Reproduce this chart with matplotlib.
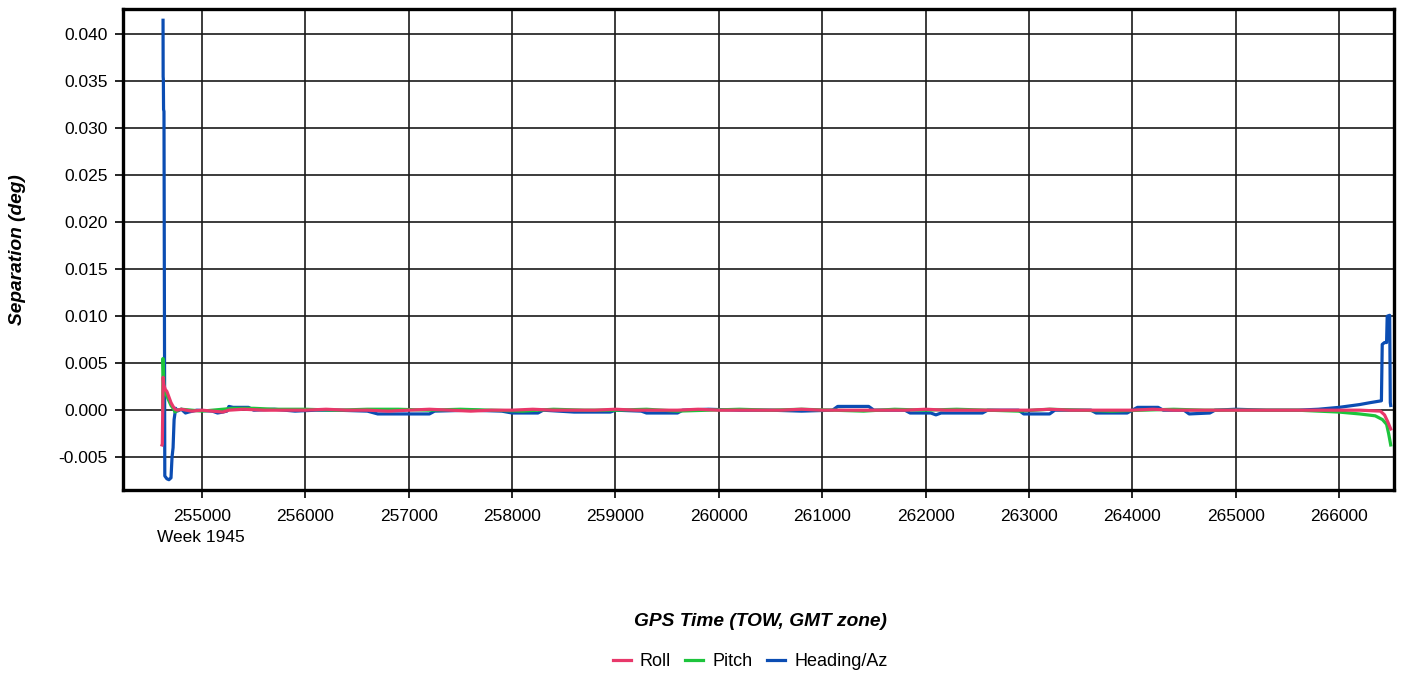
import matplotlib
matplotlib.use("Agg")
import matplotlib.pyplot as plt

plt.rcParams['font.family'] = ['Liberation Sans', 'DejaVu Sans']

# GPS time of week (s) and separation (deg)
heading_t = [254623, 254624, 254626, 254628, 254632, 254640, 254660, 254680, 254700,
             254710, 254720, 254730, 254745, 254760, 254800, 254840, 254870, 254950,
             255100, 255150, 255200, 255240, 255260, 255300, 255450, 255500, 255700,
             255900, 256100, 256300, 256600, 256700, 257200, 257250, 257600, 257900,
             258000, 258250, 258300, 258600, 258950, 259000, 259250, 259300, 259600,
             259650, 259900, 260200, 260500, 260800, 261100, 261150, 261450, 261500,
             261800, 261850, 262050, 262100, 262150, 262550, 262600, 262900, 262950,
             263200, 263250, 263600, 263650, 263950, 264000, 264050, 264250, 264300,
             264500, 264550, 264750, 264800, 265000, 265300, 265600, 265800, 266000,
             266200, 266300, 266410, 266418, 266440, 266460, 266466, 266490, 266496,
             266500]
heading_v = [0.0415, 0.0355, 0.0352, 0.0320, 0.0318, -0.0070, -0.0073, -0.0074, -0.0072,
             -0.0050, -0.0040, -0.0010, 0.0002, -0.0001, 0.0001, -0.0003, -0.0002, 0.0000,
             -0.0001, -0.0003, -0.0002, -0.0001, 0.0004, 0.0003, 0.0003, 0.0000, 0.0001,
             -0.0001, 0.0000, 0.0000, -0.0001, -0.0004, -0.0004, -0.0001, 0.0000, -0.0001,
             -0.0003, -0.0003, 0.0000, -0.0002, -0.0002, 0.0000, -0.0001, -0.0003, -0.0003,
             0.0000, 0.0001, 0.0000, 0.0000, -0.0001, 0.0000, 0.0004, 0.0004, 0.0000,
             0.0000, -0.0003, -0.0003, -0.0005, -0.0003, -0.0003, 0.0000, 0.0000, -0.0004,
             -0.0004, 0.0000, 0.0000, -0.0003, -0.0003, 0.0000, 0.0003, 0.0003, 0.0000,
             0.0000, -0.0004, -0.0003, 0.0000, 0.0001, 0.0000, 0.0000, 0.0001, 0.0003,
             0.0006, 0.0008, 0.0010, 0.0070, 0.0072, 0.0072, 0.0100, 0.0101, 0.0008,
             0.0005]

pitch_t = [254620, 254622, 254626, 254632, 254645, 254660, 254680, 254700, 254720,
           254740, 254760, 254800, 254900, 255000, 255300, 255500, 255700, 256000,
           256300, 256600, 256900, 257200, 257500, 257800, 258100, 258400, 258700,
           259000, 259300, 259600, 259900, 260200, 260500, 260800, 261100, 261400,
           261700, 262000, 262300, 262600, 262900, 263200, 263500, 263800, 264100,
           264400, 264700, 265000, 265300, 265600, 265800, 266000, 266200, 266350,
           266420, 266460, 266480, 266500]
pitch_v = [0.0000, 0.0055, 0.0050, 0.0020, 0.0018, 0.0015, 0.0010, 0.0005, 0.0002,
           -0.0002, 0.0000, 0.0001, 0.0000, -0.0001, 0.0002, 0.0002, 0.0001, 0.0001,
           0.0000, 0.0001, 0.0001, 0.0000, 0.0001, 0.0000, -0.0001, 0.0001, 0.0000,
           0.0000, 0.0001, -0.0001, 0.0000, 0.0001, 0.0000, 0.0001, 0.0000, -0.0001,
           0.0001, 0.0000, 0.0001, 0.0000, -0.0001, 0.0001, 0.0000, -0.0001, 0.0000,
           0.0001, 0.0000, 0.0000, 0.0000, 0.0000, -0.0001, -0.0002, -0.0004, -0.0006,
           -0.0010, -0.0015, -0.0025, -0.0037]

roll_t = [254613, 254616, 254620, 254624, 254630, 254645, 254660, 254680, 254700,
          254720, 254740, 254760, 254800, 254900, 255000, 255100, 255200, 255230,
          255260, 255400, 255600, 255800, 256000, 256200, 256400, 256600, 256800,
          257000, 257200, 257400, 257600, 257800, 258000, 258200, 258400, 258600,
          258800, 259000, 259200, 259400, 259600, 259800, 260000, 260200, 260400,
          260600, 260800, 261000, 261200, 261400, 261600, 261800, 262000, 262200,
          262400, 262600, 262800, 263000, 263200, 263400, 263600, 263800, 264000,
          264200, 264400, 264600, 264800, 265000, 265200, 265400, 265600, 265800,
          266000, 266200, 266400, 266440, 266470, 266500]
roll_v = [-0.0037, -0.0036, 0.0000, 0.0035, 0.0027, 0.0022, 0.0020, 0.0014, 0.0008,
          0.0004, 0.0001, 0.0000, 0.0001, -0.0001, 0.0000, -0.0001, -0.0002, -0.0001,
          0.0000, 0.0001, 0.0000, 0.0000, 0.0000, 0.0001, 0.0000, 0.0000, -0.0001,
          0.0000, 0.0001, 0.0000, -0.0001, 0.0000, 0.0000, 0.0001, 0.0000, 0.0000,
          0.0000, 0.0001, 0.0000, 0.0000, 0.0000, 0.0001, 0.0000, 0.0000, 0.0000,
          0.0000, 0.0001, 0.0000, 0.0000, 0.0000, 0.0000, 0.0000, 0.0001, 0.0000,
          0.0000, 0.0000, 0.0000, 0.0000, 0.0001, 0.0000, 0.0000, 0.0000, 0.0000,
          0.0001, 0.0000, 0.0000, 0.0000, 0.0000, 0.0000, 0.0000, 0.0000, 0.0000,
          0.0000, 0.0000, -0.0001, -0.0005, -0.0012, -0.0020]

x_ticks = list(range(255000, 266001, 1000))
y_ticks = [-0.005, 0.000, 0.005, 0.010, 0.015, 0.020, 0.025, 0.030, 0.035, 0.040]

fig = plt.figure(figsize=(14.03, 6.75), dpi=100)
ax = fig.add_axes([0.0877, 0.274, 0.9059, 0.7127])

ax.plot(roll_t, roll_v, color='#E8386A', lw=2.3, label='Roll', zorder=5)
ax.plot(pitch_t, pitch_v, color='#1DC43C', lw=2.3, label='Pitch', zorder=4)
ax.plot(heading_t, heading_v, color='#0B4DB3', lw=2.3, label='Heading/Az', zorder=3)

ax.set_xlim(254236, 266532)
ax.set_ylim(-0.0085, 0.0427)
ax.set_xticks(x_ticks)
ax.set_yticks(y_ticks)
ax.set_xticklabels([str(t) for t in x_ticks])
ax.set_yticklabels(['%.3f' % v for v in y_ticks])
ax.grid(True, color='#1a1a1a', lw=1.2)
ax.set_axisbelow(True)
for s in ax.spines.values():
    s.set_linewidth(2.4)
    s.set_color('black')
ax.tick_params(direction='out', length=6, width=1.2, labelsize=12.5, pad=5, colors='black')
ax.tick_params(axis='x', pad=8)

fig.text(201 / 1403, 1 - 538 / 675, 'Week 1945', ha='center', va='center', fontsize=12.5)
fig.text(760 / 1403, 1 - 621 / 675, 'GPS Time (TOW, GMT zone)', ha='center', va='center',
         fontsize=13.8, fontweight='bold', style='italic')
fig.text(18 / 1403, 1 - 250 / 675, 'Separation (deg)', ha='center', va='center',
         rotation=90, fontsize=13.8, fontweight='bold', style='italic')

handles, labels = ax.get_legend_handles_labels()
fig.legend(handles, labels, loc='center', bbox_to_anchor=(750 / 1403, 1 - 662 / 675),
           ncol=3, frameon=False, fontsize=13, handlelength=1.0, handletextpad=0.5,
           columnspacing=0.8)

fig.savefig('out.png', dpi=100)
